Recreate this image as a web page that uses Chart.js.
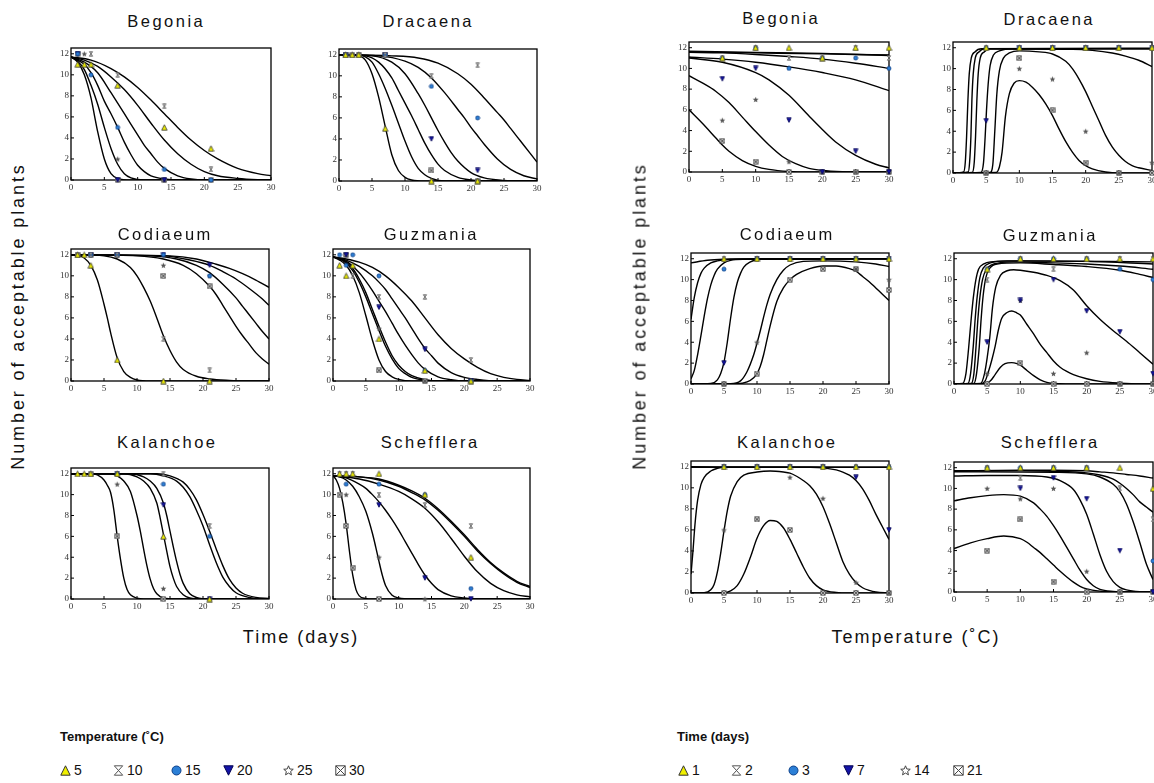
<!DOCTYPE html>
<html>
<head>
<meta charset="utf-8">
<script src="https://cdn.jsdelivr.net/npm/chart.js@4.4.1/dist/chart.umd.min.js"></script>
<style>
  html, body { margin: 0; padding: 0; background: #fff; }
  body { width: 1154px; height: 783px; overflow: hidden; position: relative;
         font-family: "Liberation Sans", Arial, sans-serif; color: #111; }
  canvas { position: absolute; }
  .ttl { position: absolute; font-size: 16.5px; line-height: 16.5px; letter-spacing: 2.5px;
         padding-left: 2.5px; white-space: nowrap; transform: translateX(-50%); }
  .axt { position: absolute; font-size: 18px; letter-spacing: 2px; white-space: nowrap; }
  .ylab { letter-spacing: 2.9px; }
  .legt { position: absolute; font-size: 13px; font-weight: bold; white-space: nowrap; }
  .legi { position: absolute; font-size: 14px; white-space: nowrap; line-height: 14px; }
</style>
</head>
<body>
<script>
// tick labels
const xTicks = [0, 5, 10, 15, 20, 25, 30];
const yTicks = [0, 2, 4, 6, 8, 10, 12];
// series names (legend)
const tempSeries = ['5', '10', '15', '20', '25', '30'];
const timeSeries = ['1', '2', '3', '7', '14', '21'];
const markerKinds = ['tri', 'hour', 'circle', 'down', 'star', 'box'];

// ---- left block: x = time (days), one point list per temperature ----
const begoniaDaysPts = [
  [[1,11],[2,11],[3,11],[7,9],[14,5],[21,3]],
  [[3,12],[7,10],[14,7],[21,1]],
  [[1,12],[3,10],[7,5],[14,1],[21,0]],
  [[1,12],[7,0],[14,0]],
  [[2,12],[7,2],[14,0]],
  [[1,12],[7,0],[14,0],[21,0]]
];
const begoniaDaysFit = [
  [[0,11.7],[1,11.2],[2,10],[3,7.8],[3.5,6.2],[4,4.6],[5,2],[6,0.6],[7,0.15],[9,0],[30,0]],
  [[0,11.7],[1,11.3],[2,10.5],[3,9],[4,7.2],[5,5],[6,3],[7,1.5],[8,0.6],[9,0.2],[11,0],[30,0]],
  [[0,11.7],[2,11],[3,10.2],[4,9],[5,7.5],[6,6.3],[7,5],[8,3.6],[9,2.4],[10,1.4],[11,0.8],[12,0.4],[14,0.1],[16,0],[30,0]],
  [[0,11.7],[2,11.2],[4,10.2],[6,8.3],[7,7.3],[8,6.3],[9,5.3],[10,4.3],[11,3.3],[12,2.5],[13,1.7],[14,1.1],[16,0.4],[18,0.1],[20,0],[30,0]],
  [[0,11.7],[2,11.4],[4,10.8],[6,9.8],[8,8.6],[10,7.1],[12,5.4],[14,3.8],[16,2.5],[18,1.5],[20,0.8],[22,0.4],[25,0.15],[28,0.03],[30,0]],
  [[0,11.7],[3,11.4],[6,10.6],[8,9.8],[10,8.8],[12,7.6],[14,6.3],[16,5],[18,3.8],[20,2.8],[22,2],[25,1.1],[28,0.6],[30,0.4]]
];

const dracaenaDaysPts = [
  [[1,12],[2,12],[3,12],[7,5],[14,0],[21,0]],
  [[1,12],[3,12],[7,12],[14,10],[21,11]],
  [[1,12],[7,12],[14,9],[21,6]],
  [[1,12],[7,12],[14,4],[21,1]],
  [[2,12],[7,12],[14,0],[21,0]],
  [[1,12],[2,12],[3,12],[7,12],[14,1],[21,0]]
];
const dracaenaDaysFit = [
  [[0,12],[3,11.9],[4,11.5],[5,10.2],[6,8],[7,5.2],[8,2.5],[9,1],[10,0.35],[11,0.1],[13,0],[30,0]],
  [[0,12],[3,12],[4,11.8],[5,11.3],[6,10.2],[7,8.8],[8,7.2],[9,5.5],[10,3.8],[11,2.3],[12,1.2],[13,0.6],[14,0.25],[16,0],[30,0]],
  [[0,12],[4,11.9],[6,11.3],[8,9.8],[9,8.6],[10,7.4],[11,6.2],[12,4.9],[13,3.6],[14,2.5],[15,1.6],[16,1],[18,0.35],[20,0.1],[22,0],[30,0]],
  [[0,12],[5,11.9],[8,11.3],[10,10.2],[12,8.3],[13,7.2],[14,6],[15,4.8],[16,3.7],[17,2.7],[18,1.9],[20,0.8],[22,0.3],[25,0.05],[27,0],[30,0]],
  [[0,12],[6,11.9],[10,11.4],[12,10.8],[14,9.8],[16,8.4],[18,6.8],[19,6],[20,5.1],[21,4.3],[22,3.5],[24,2.1],[26,1.1],[28,0.5],[30,0.2]],
  [[0,12],[8,11.9],[12,11.7],[15,11.2],[18,10.2],[20,9.2],[22,7.9],[24,6.5],[25,5.8],[26,5],[27,4.2],[28,3.4],[29,2.6],[30,1.8]]
];

const codiaeumDaysPts = [
  [[1,12],[2,12],[3,11],[7,2],[14,0],[21,0]],
  [[1,12],[3,12],[7,12],[14,4],[21,1]],
  [[3,12],[7,12],[14,12],[21,10]],
  [[3,12],[7,12],[14,12],[21,11]],
  [[3,12],[7,12],[14,11],[21,10]],
  [[1,12],[3,12],[7,12],[14,10],[21,9]]
];
const codiaeumDaysFit = [
  [[0,12],[1,11.95],[2,11.7],[3,11],[4,9.6],[5,7.3],[5.5,6],[6,4.6],[7,2.2],[8,0.9],[9,0.35],[10,0.1],[12,0],[30,0]],
  [[0,12],[5,11.9],[7,11.6],[9,10.8],[10,10],[11,8.9],[12,7.6],[13,6],[14,4.3],[15,2.9],[16,1.8],[17,1.1],[19,0.45],[21,0.2],[24,0.05],[26,0],[30,0]],
  [[0,12],[10,11.9],[14,11.6],[17,11],[19,10.2],[21,9],[22,8.2],[23,7.2],[24,6.2],[25,5.2],[26,4.3],[27,3.5],[28,2.7],[29,2.1],[30,1.6]],
  [[0,12],[12,11.9],[16,11.6],[19,11],[21,10.3],[23,9.2],[25,7.9],[26,7.1],[27,6.3],[28,5.5],[29,4.7],[30,4]],
  [[0,12],[14,11.9],[18,11.5],[21,11],[23,10.4],[25,9.7],[27,8.8],[29,7.8],[30,7.2]],
  [[0,12],[15,11.9],[19,11.6],[22,11.1],[24,10.7],[26,10.2],[28,9.6],[30,8.9]]
];

const guzmaniaDaysPts = [
  [[1,11],[2,10],[3,11],[7,4],[14,1],[21,0]],
  [[3,10],[7,8],[14,8],[21,2]],
  [[1,12],[2,11],[3,12],[7,10],[14,1],[21,0]],
  [[2,12],[7,7],[14,3],[21,0]],
  [[2,12],[7,5],[14,0]],
  [[2,12],[7,1],[14,0],[21,0]]
];
const guzmaniaDaysFit = [
  [[0,11.8],[1,11.5],[2,11],[3,10],[4,8.4],[5,6.2],[6,3.9],[7,2],[8,0.9],[9,0.4],[10,0.15],[12,0],[30,0]],
  [[0,11.8],[1,11.6],[2,11.2],[3,10.5],[4,9.4],[5,8],[6,6.4],[7,4.8],[8,3.3],[9,2.1],[10,1.2],[11,0.7],[12,0.35],[14,0.08],[16,0],[30,0]],
  [[0,11.8],[1,11.6],[2,11.3],[3,10.7],[4,9.7],[5,8.4],[6,6.8],[7,5.2],[8,3.7],[9,2.4],[10,1.5],[11,0.9],[12,0.5],[14,0.12],[16,0],[30,0]],
  [[0,11.8],[2,11.4],[4,10.3],[5,9.5],[6,8.6],[7,7.6],[8,6.6],[9,5.5],[10,4.4],[11,3.4],[12,2.5],[13,1.7],[14,1.1],[16,0.4],[18,0.12],[20,0],[30,0]],
  [[0,11.8],[2,11.5],[4,10.9],[6,10],[7,9.4],[8,8.7],[9,7.8],[10,6.9],[11,6],[12,5],[13,4],[14,3.1],[15,2.4],[16,1.7],[18,0.8],[20,0.35],[22,0.15],[25,0],[30,0]],
  [[0,11.8],[2,11.6],[4,11.3],[6,10.8],[8,10],[10,8.9],[12,7.6],[14,6],[16,4.4],[18,3.1],[20,2.1],[22,1.3],[24,0.7],[26,0.35],[28,0.15],[30,0.05]]
];

const kalanchoeDaysPts = [
  [[1,12],[2,12],[3,12],[7,12],[14,6],[21,0]],
  [[7,12],[14,12],[21,7]],
  [[7,12],[14,11],[21,6]],
  [[7,12],[14,9],[21,0]],
  [[7,11],[14,1],[21,0]],
  [[3,12],[7,6],[14,0]]
];
const kalanchoeDaysFit = [
  [[0,12],[3,12],[4,11.9],[5,11.4],[5.5,10.9],[6,10.2],[6.5,8.5],[7,6],[7.5,3.8],[8,2],[8.5,0.9],[9,0.4],[10,0.08],[11,0],[30,0]],
  [[0,12],[6,12],[7,11.8],[8,11.3],[9,10.3],[10,8],[10.5,6.5],[11,4.8],[11.5,3.2],[12,1.9],[12.5,1],[13,0.5],[14,0.1],[16,0],[30,0]],
  [[0,12],[8,12],[10,11.7],[11,11.3],[12,10.6],[13,9.2],[13.5,7.8],[14,6.2],[14.5,4.6],[15,3.1],[15.5,2],[16,1.2],[17,0.4],[18,0.1],[20,0],[30,0]],
  [[0,12],[9,12],[11,11.7],[12,11.3],[13,10.6],[14,9.2],[14.5,8],[15,6.5],[15.5,5],[16,3.6],[16.5,2.4],[17,1.5],[18,0.5],[19,0.15],[21,0],[30,0]],
  [[0,12],[12,12],[14,11.8],[16,11.3],[17,10.7],[18,9.8],[19,8.5],[20,7],[21,5.2],[22,3.5],[23,2.1],[24,1.2],[25,0.6],[27,0.15],[29,0],[30,0]],
  [[0,12],[13,12],[15,11.8],[17,11.2],[18,10.5],[19,9.5],[20,8.1],[21,6.5],[22,4.8],[23,3.2],[24,1.9],[25,1.05],[26,0.55],[28,0.15],[30,0.05]]
];

const scheffleraDaysPts = [
  [[1,12],[2,12],[3,12],[7,12],[14,10],[21,4]],
  [[1,12],[2,12],[3,12],[7,10],[14,9],[21,7]],
  [[2,11],[7,11],[14,10],[21,1]],
  [[7,9],[14,2],[21,0]],
  [[2,10],[7,4],[14,0]],
  [[1,10],[2,7],[3,3],[7,0]]
];
const scheffleraDaysFit = [
  [[0,11.8],[0.5,11.4],[1,10.6],[1.5,9.2],[2,7.2],[2.5,4.6],[3,2.3],[3.5,0.9],[4,0.3],[5,0.05],[6,0],[30,0]],
  [[0,11.8],[1,11.7],[2,11.4],[3,10.8],[4,9.8],[5,8.4],[6,6.3],[6.5,5],[7,3.6],[7.5,2.3],[8,1.3],[9,0.35],[10,0.1],[12,0],[30,0]],
  [[0,11.8],[2,11.6],[4,11],[5,10.6],[6,10],[7,9.3],[8,8.5],[9,7.6],[10,6.6],[11,5.5],[12,4.4],[13,3.3],[14,2.3],[15,1.5],[16,0.9],[18,0.3],[20,0.1],[22,0],[30,0]],
  [[0,11.8],[4,11.5],[7,11],[10,10.3],[12,9.6],[14,8.7],[16,7.4],[18,5.8],[20,4.1],[22,2.6],[24,1.5],[26,0.8],[28,0.4],[30,0.2]],
  [[0,11.8],[4,11.7],[7,11.4],[10,10.8],[12,10.2],[14,9.5],[16,8.5],[18,7.3],[20,6],[22,4.6],[24,3.4],[26,2.4],[28,1.6],[30,1.1]],
  [[0,11.8],[4,11.7],[7,11.5],[10,10.9],[12,10.35],[14,9.65],[16,8.65],[18,7.45],[20,6.15],[22,4.75],[24,3.5],[26,2.5],[28,1.7],[30,1.2]]
];

// ---- right block: x = temperature (C), one point list per storage time ----
const begoniaTempPts = [
  [[5,11],[10,12],[15,12],[20,11],[25,12],[30,12]],
  [[5,11],[10,12],[15,11],[20,11],[25,12],[30,11]],
  [[5,11],[10,12],[15,10],[20,11],[25,11],[30,10]],
  [[5,9],[10,10],[15,5],[20,0],[25,2],[30,0]],
  [[5,5],[10,7],[15,1],[20,0],[25,0],[30,0]],
  [[5,3],[10,1],[15,0],[20,0],[25,0],[30,0]]
];
const begoniaTempFit = [
  [[0,11.65],[10,11.55],[20,11.45],[30,11.25]],
  [[0,11.6],[10,11.5],[20,11.4],[30,11.3]],
  [[0,11.55],[5,11.5],[10,11.35],[15,11.15],[20,10.9],[25,10.5],[30,10]],
  [[0,11.1],[5,10.9],[10,10.6],[15,10.15],[20,9.6],[25,8.9],[30,7.85]],
  [[0,11],[5,10.6],[10,9.6],[12,8.9],[15,7.4],[18,5.4],[20,4.1],[22,2.9],[25,1.6],[28,0.75],[30,0.4]],
  [[0,9.3],[2,8.6],[4,7.8],[6,6.7],[8,5.3],[10,3.9],[12,2.6],[14,1.5],[16,0.8],[18,0.35],[20,0.15],[23,0.03],[26,0],[30,0]],
  [[0,6],[2,4.7],[4,3.3],[5,2.6],[6,2],[8,1.1],[10,0.55],[12,0.25],[15,0.05],[18,0],[30,0]]
];

const dracaenaTempPts = [
  [[5,12],[10,12],[15,12],[20,12],[25,12],[30,12]],
  [[5,12],[10,12],[15,12],[20,12],[25,12],[30,12]],
  [[5,12],[10,12],[15,12],[20,12],[25,12],[30,12]],
  [[5,5],[10,12],[15,12],[20,12],[25,12],[30,12]],
  [[5,0],[10,10],[15,9],[20,4],[25,0],[30,1]],
  [[5,0],[10,11],[15,6],[20,1],[25,0],[30,0]]
];
const dracaenaTempFit = [
  [[0,0],[1.6,0.1],[1.85,1],[2.05,3.5],[2.25,7],[2.45,9.5],[2.75,11],[3.3,11.6],[4.3,11.9],[30,11.95]],
  [[0,0],[2.3,0.1],[2.5,1],[2.7,3.5],[2.85,7],[3.05,9.5],[3.35,11],[3.9,11.6],[4.8,11.9],[30,11.9]],
  [[0,0],[2.9,0.05],[3.2,1],[3.4,3.5],[3.6,7],[3.8,9.5],[4.1,11],[4.7,11.6],[5.6,11.9],[18,11.85],[21,11.75],[24,11.5],[26,11.2],[28,10.8],[30,10.2]],
  [[0,0],[4.2,0.05],[4.6,1],[4.85,3.5],[5.05,6],[5.3,8.5],[5.6,10.3],[6.1,11.3],[7,11.7],[9,11.9],[30,11.9]],
  [[0,0],[5.6,0.05],[6,0.8],[6.3,4],[6.6,7.5],[7,9.8],[7.6,11],[8.5,11.5],[10,11.7],[13,11.6],[15,11.4],[17,10.7],[18,10],[19,9],[20,7.8],[21,6.4],[22,5],[23,3.6],[24,2.5],[25,1.7],[26,1.1],[27,0.7],[28,0.5],[30,0.25]],
  [[0,0],[6.5,0.05],[7,0.6],[7.4,2],[7.9,5.4],[8.5,7.6],[9.2,8.6],[10,8.85],[11,8.7],[12,8.2],[13,7.5],[14,6.6],[15,5.5],[16,4.2],[17,3],[18,2],[19,1.2],[20,0.7],[21,0.4],[23,0.1],[25,0],[30,0]]
];

const codiaeumTempPts = [
  [[5,12],[10,12],[15,12],[20,12],[25,12],[30,12]],
  [[5,12],[10,12],[15,12],[20,12],[25,12],[30,12]],
  [[5,11],[10,12],[15,12],[20,12],[25,12],[30,12]],
  [[5,2],[10,12],[15,12],[20,12],[25,12],[30,12]],
  [[5,0],[10,4],[15,12],[20,12],[25,11],[30,10]],
  [[5,0],[10,1],[15,10],[20,11],[25,11],[30,9]]
];
const codiaeumTempFit = [
  [[0,11.6],[2.5,11.85],[5,11.95],[10,12],[30,12]],
  [[0,6.2],[0.5,8.3],[1,9.7],[1.5,10.6],[2,11.1],[3,11.6],[4,11.8],[6,11.95],[30,12]],
  [[0,0.5],[0.5,1.3],[1,2.8],[1.5,4.6],[2,6.5],[2.5,8.2],[3,9.5],[3.5,10.4],[4,11],[5,11.6],[6,11.85],[8,11.95],[30,12]],
  [[0,0],[3,0.05],[4,0.4],[4.5,1],[5,2.1],[5.5,4],[6,6.3],[6.5,8.3],[7,9.7],[7.5,10.6],[8,11.2],[9,11.7],[10,11.9],[12,12],[30,12]],
  [[0,0],[6,0.02],[7.5,0.3],[8.5,1.2],[9.5,2.8],[10,3.9],[10.5,5.1],[11,6.4],[11.5,7.6],[12,8.6],[13,10],[14,10.9],[15,11.4],[17,11.75],[20,11.8],[25,11.7],[28,11.5],[30,11.25]],
  [[0,0],[7,0.02],[8.5,0.2],[9.5,0.6],[10,1],[10.5,1.7],[11,2.8],[11.5,4.2],[12,5.6],[13,7.9],[14,9.2],[15,10],[16,10.5],[18,11.05],[20,11.3],[22,11.3],[24,11.05],[25,10.8],[26,10.3],[27,9.8],[28,9.2],[29,8.6],[30,8]]
];

const guzmaniaTempPts = [
  [[5,11],[10,12],[15,12],[20,12],[25,12],[30,12]],
  [[5,10],[10,12],[15,11],[20,12],[25,12],[30,12]],
  [[5,11],[10,12],[15,12],[20,12],[25,11],[30,10]],
  [[5,4],[10,8],[15,10],[20,7],[25,5],[30,1]],
  [[5,1],[10,8],[15,1],[20,3],[25,0],[30,0]],
  [[5,0],[10,2],[15,0],[20,0],[25,0],[30,0]]
];
const guzmaniaTempFit = [
  [[0,0],[1.3,0.05],[1.8,1],[2.2,3.4],[2.6,6.3],[2.9,8.2],[3.3,10],[3.7,11],[4.5,11.5],[5.5,11.7],[10,11.8],[30,11.7]],
  [[0,0],[2.1,0.05],[2.5,1],[2.9,3.6],[3.2,6.3],[3.5,8.4],[3.9,10.2],[4.4,11.1],[5.5,11.6],[8,11.8],[20,11.75],[30,11.5]],
  [[0,0],[2.6,0.05],[3,1],[3.3,3.4],[3.6,6.2],[3.9,8.3],[4.3,10],[4.8,10.9],[6,11.5],[9,11.7],[15,11.6],[20,11.5],[25,11.3],[30,11]],
  [[0,0],[3,0.05],[3.4,1],[3.8,3.5],[4.1,6.3],[4.4,8.5],[4.8,10.2],[5.4,11.1],[6.5,11.5],[10,11.6],[15,11.45],[20,11.25],[25,10.9],[28,10.5],[30,10.2]],
  [[0,0],[4,0.05],[4.6,1],[5,2.5],[5.4,4.5],[5.8,7.3],[6.3,9.3],[7,10.4],[8,10.85],[9,10.95],[10,10.9],[12,10.7],[14,10.4],[16,9.9],[18,9],[20,7.5],[22,6.2],[24,5.1],[25,4.6],[26,4.1],[28,3],[30,1.9]],
  [[0,0],[4,0.02],[4.7,0.3],[5.2,1.2],[5.7,2.3],[6.2,3.6],[6.7,5.2],[7.2,6.3],[8,6.85],[8.7,7],[9.5,6.8],[10,6.6],[11,5.7],[12,4.8],[13,3.8],[14,3],[15,2.2],[16,1.6],[17,1.2],[18,0.9],[20,0.5],[22,0.25],[25,0.08],[28,0],[30,0]],
  [[0,0],[4.8,0.02],[5.5,0.3],[6.2,0.9],[7,1.6],[7.7,1.95],[8.7,2.05],[9.5,1.95],[10,1.8],[11,1.3],[12,0.8],[13,0.4],[14,0.15],[16,0.02],[18,0],[30,0]]
];

const kalanchoeTempPts = [
  [[5,12],[10,12],[15,12],[20,12],[25,12],[30,12]],
  [[5,12],[10,12],[15,12],[20,12],[25,12],[30,12]],
  [[5,12],[10,12],[15,12],[20,12],[25,12],[30,12]],
  [[5,12],[10,12],[15,12],[20,12],[25,11],[30,6]],
  [[5,6],[10,12],[15,11],[20,9],[25,1],[30,0]],
  [[5,0],[10,7],[15,6],[20,0],[25,0],[30,0]]
];
const kalanchoeTempFit = [
  [[0,11.95],[30,11.95]],
  [[0,1.8],[0.3,4],[0.6,6.5],[1,8.8],[1.5,10.3],[2,11],[3,11.6],[4,11.85],[5,11.95],[30,11.95]],
  [[0,12],[18,11.95],[20,11.9],[22,11.7],[23,11.5],[24,11.2],[25,10.7],[26,9.9],[27,8.8],[28,7.5],[29,6.3],[30,5.1]],
  [[0,0],[2,0.02],[3,0.3],[3.5,0.8],[4,2],[4.5,3.8],[5,5.9],[5.5,7.8],[6,9.2],[7,10.6],[8,11.2],[10,11.5],[12,11.6],[14,11.5],[15,11.4],[16,11.1],[17,10.7],[18,10.2],[19,9.4],[20,8.2],[21,6.6],[22,4.8],[23,3],[24,1.8],[25,1],[26,0.5],[27,0.25],[28,0.1],[30,0]],
  [[0,0],[5,0.02],[6,0.2],[7,0.7],[8,1.8],[9,3.4],[10,5.2],[11,6.4],[12,6.9],[13,6.8],[14,6.2],[15,5.1],[16,3.8],[17,2.5],[18,1.4],[19,0.7],[20,0.3],[22,0.05],[24,0],[30,0]]
];

const scheffleraTempPts = [
  [[5,12],[10,12],[15,12],[20,12],[25,12],[30,10]],
  [[5,12],[10,11],[15,12],[20,12],[25,10],[30,7]],
  [[5,12],[10,12],[15,12],[20,12],[30,3]],
  [[10,10],[15,11],[20,9],[25,4],[30,0]],
  [[5,10],[10,9],[15,10],[20,2],[25,0],[30,0]],
  [[5,4],[10,7],[15,1],[20,0],[25,0],[30,0]]
];
const scheffleraTempFit = [
  [[0,11.7],[10,11.75],[15,11.75],[20,11.7],[22,11.6],[24,11.5],[26,11.35],[28,11.2],[30,11]],
  [[0,11.65],[10,11.7],[15,11.65],[20,11.5],[22,11.3],[24,10.9],[25,10.5],[26,10],[27,9.4],[28,8.7],[29,8.2],[30,7.7]],
  [[0,11.6],[15,11.55],[20,11.4],[22,11.1],[24,10.4],[25,9.7],[26,8.5],[27,6.8],[28,4.8],[29,2.7],[30,1.2]],
  [[0,11.2],[5,11.25],[10,11.25],[14,11.1],[16,10.75],[18,9.9],[19,8.9],[20,7.5],[21,5.6],[22,3.6],[23,2],[24,1],[25,0.45],[26,0.2],[28,0.03],[30,0]],
  [[0,8.8],[2.5,9.1],[5,9.3],[7.5,9.4],[10,9.25],[12,8.6],[13,8],[14,7.3],[15,6.4],[16,5.4],[17,4.3],[18,3.2],[19,2.1],[20,1.2],[21,0.6],[22,0.25],[24,0.05],[26,0],[30,0]],
  [[0,4.2],[2.5,4.75],[5,5.15],[7.5,5.4],[10,5.15],[11,4.8],[12,4.3],[13,3.8],[14,3.2],[15,2.6],[16,2],[17,1.45],[18,0.95],[19,0.55],[20,0.3],[22,0.08],[24,0],[30,0]]
];

// panel placement: plot box l/t/r/b in page pixels, title centre and baseline
const panels = [
  { title: 'Begonia',    pts: begoniaDaysPts,    fit: begoniaDaysFit,    l: 71,  t: 48,  r: 271,  b: 180, tx: 165,  ty: 27 },
  { title: 'Dracaena',   pts: dracaenaDaysPts,   fit: dracaenaDaysFit,   l: 339, t: 49,  r: 537,  b: 181, tx: 427,  ty: 27 },
  { title: 'Codiaeum',   pts: codiaeumDaysPts,   fit: codiaeumDaysFit,   l: 71,  t: 249, r: 269,  b: 381, tx: 164,  ty: 240 },
  { title: 'Guzmania',   pts: guzmaniaDaysPts,   fit: guzmaniaDaysFit,   l: 333, t: 249, r: 530,  b: 381, tx: 430,  ty: 240 },
  { title: 'Kalanchoe',  pts: kalanchoeDaysPts,  fit: kalanchoeDaysFit,  l: 71,  t: 468, r: 269,  b: 599, tx: 166,  ty: 448 },
  { title: 'Schefflera', pts: scheffleraDaysPts, fit: scheffleraDaysFit, l: 333, t: 468, r: 530,  b: 599, tx: 429,  ty: 448 },
  { title: 'Begonia',    pts: begoniaTempPts,    fit: begoniaTempFit,    l: 689, t: 42,  r: 889,  b: 172, tx: 780,  ty: 24 },
  { title: 'Dracaena',   pts: dracaenaTempPts,   fit: dracaenaTempFit,   l: 953, t: 42,  r: 1152, b: 173, tx: 1048, ty: 25 },
  { title: 'Codiaeum',   pts: codiaeumTempPts,   fit: codiaeumTempFit,   l: 691, t: 253, r: 889,  b: 384, tx: 786,  ty: 240 },
  { title: 'Guzmania',   pts: guzmaniaTempPts,   fit: guzmaniaTempFit,   l: 954, t: 253, r: 1153, b: 384, tx: 1049, ty: 241 },
  { title: 'Kalanchoe',  pts: kalanchoeTempPts,  fit: kalanchoeTempFit,  l: 691, t: 461, r: 889,  b: 593, tx: 786,  ty: 448 },
  { title: 'Schefflera', pts: scheffleraTempPts, fit: scheffleraTempFit, l: 954, t: 462, r: 1153, b: 592, tx: 1049, ty: 448 }
];

const PAD_L = 24, PAD_T = 8, PAD_R = 7, PAD_B = 14;

// small marker images used as point styles
function makeMarker(kind, s, legend) {
  const c = document.createElement('canvas');
  c.width = s; c.height = s;
  const g = c.getContext('2d');
  const m = 0.8, e = s - 0.8, h = s / 2;
  g.lineWidth = legend ? 1 : 0.8;
  g.beginPath();
  if (kind === 'tri') {
    g.moveTo(h, m); g.lineTo(e, e); g.lineTo(m, e); g.closePath();
    g.fillStyle = '#f0f000'; g.strokeStyle = '#333';
    g.fill(); g.stroke();
  } else if (kind === 'down') {
    g.moveTo(m, m); g.lineTo(e, m); g.lineTo(h, e); g.closePath();
    g.fillStyle = '#1414a8'; g.strokeStyle = '#000050';
    g.fill(); g.stroke();
  } else if (kind === 'circle') {
    g.arc(h, h, h - 1, 0, Math.PI * 2);
    g.fillStyle = '#2b7fd6'; g.strokeStyle = '#0c3f88';
    g.fill(); g.stroke();
  } else if (kind === 'hour') {
    g.moveTo(m + 0.5, m); g.lineTo(e - 0.5, m); g.lineTo(m + 0.5, e); g.lineTo(e - 0.5, e); g.closePath();
    g.fillStyle = legend ? '#fff' : '#ccc'; g.strokeStyle = '#555';
    g.fill(); g.stroke();
  } else if (kind === 'star') {
    const ro = h - 0.5, ri = ro * 0.45;
    for (let i = 0; i < 10; i++) {
      const a = -Math.PI / 2 + i * Math.PI / 5, rr = i % 2 ? ri : ro;
      const px = h + rr * Math.cos(a), py = h + 0.3 + rr * Math.sin(a);
      i ? g.lineTo(px, py) : g.moveTo(px, py);
    }
    g.closePath();
    if (legend) { g.fillStyle = '#fff'; g.strokeStyle = '#444'; g.fill(); g.stroke(); }
    else { g.fillStyle = '#555'; g.fill(); }
  } else if (kind === 'box') {
    g.rect(m, m, e - m, e - m);
    g.fillStyle = legend ? '#fff' : '#d8d8d8'; g.strokeStyle = '#444';
    g.fill(); g.stroke();
    g.beginPath(); g.moveTo(m, m); g.lineTo(e, e); g.moveTo(e, m); g.lineTo(m, e); g.stroke();
  }
  return c;
}
const markerSize = { tri: 7, hour: 6, circle: 6, down: 6, star: 7, box: 6 };
const plotMarkers = markerKinds.map(k => makeMarker(k, markerSize[k], false));

// frame and inward ticks around each plot box
const framePlugin = {
  id: 'frame',
  beforeDatasetsDraw(chart) {
    const { ctx, chartArea: a, scales: { x, y } } = chart;
    ctx.save();
    ctx.strokeStyle = '#000';
    ctx.lineWidth = 1.3;
    ctx.strokeRect(a.left, a.top, a.right - a.left, a.bottom - a.top);
    ctx.lineWidth = 1;
    ctx.beginPath();
    xTicks.forEach(v => { const px = x.getPixelForValue(v); ctx.moveTo(px, a.bottom); ctx.lineTo(px, a.bottom - 3); });
    yTicks.forEach(v => { const py = y.getPixelForValue(v); ctx.moveTo(a.left, py); ctx.lineTo(a.left + 3, py); });
    ctx.stroke();
    ctx.restore();
  }
};

function buildPanel(p) {
  const w = p.r - p.l + PAD_L + PAD_R, h = p.b - p.t + PAD_T + PAD_B;
  const cv = document.createElement('canvas');
  cv.width = w; cv.height = h;
  cv.style.left = (p.l - PAD_L) + 'px';
  cv.style.top = (p.t - PAD_T) + 'px';
  cv.style.width = w + 'px'; cv.style.height = h + 'px';
  document.body.appendChild(cv);

  const datasets = [];
  p.pts.forEach((arr, i) => datasets.push({
    type: 'scatter', data: arr, pointStyle: plotMarkers[i], pointRadius: 3, clip: false
  }));
  p.fit.forEach(arr => datasets.push({
    type: 'line', data: arr, borderColor: '#000', borderWidth: 1.4, pointRadius: 0,
    cubicInterpolationMode: 'monotone', fill: false
  }));

  const tickFont = { family: '"Liberation Serif", "Times New Roman", serif', size: 9 };
  new Chart(cv, {
    type: 'scatter',
    data: { datasets },
    plugins: [framePlugin],
    options: {
      responsive: false, animation: false, devicePixelRatio: 1, events: [],
      layout: { padding: { left: 0, top: PAD_T, right: PAD_R, bottom: 0 } },
      plugins: { legend: { display: false }, tooltip: { enabled: false } },
      scales: {
        x: {
          type: 'linear', min: 0, max: 30,
          grid: { display: false, drawTicks: false }, border: { display: false },
          afterBuildTicks: s => { s.ticks = xTicks.map(v => ({ value: v })); },
          afterFit: s => { s.height = PAD_B; },
          ticks: { padding: 2, autoSkip: false, maxRotation: 0, color: '#333', font: tickFont }
        },
        y: {
          type: 'linear', min: 0, max: 12.55,
          grid: { display: false, drawTicks: false }, border: { display: false },
          afterBuildTicks: s => { s.ticks = yTicks.map(v => ({ value: v })); },
          afterFit: s => { s.width = PAD_L; },
          ticks: { padding: 2, autoSkip: false, color: '#333', font: tickFont }
        }
      }
    }
  });

  const t = document.createElement('div');
  t.className = 'ttl';
  t.textContent = p.title;
  t.style.left = p.tx + 'px';
  t.style.top = (p.ty - 14) + 'px';
  document.body.appendChild(t);
}
panels.forEach(buildPanel);

// axis titles
function addText(cls, text, css) {
  const d = document.createElement('div');
  d.className = cls; d.textContent = text;
  Object.assign(d.style, css);
  document.body.appendChild(d);
  return d;
}
const yLab = 'Number of acceptable plants';
addText('axt ylab', yLab, { left: '18px', top: '316px', transform: 'translate(-50%,-50%) rotate(-90deg)' });
addText('axt ylab', yLab, { left: '640px', top: '316px', transform: 'translate(-50%,-50%) rotate(-90deg)' });
addText('axt', 'Time (days)', { left: '301px', top: '637px', transform: 'translate(-50%,-50%)' });
addText('axt', 'Temperature (˚C)', { left: '916px', top: '637px', transform: 'translate(-50%,-50%)' });

// legends
addText('legt', 'Temperature (˚C)', { left: '60px', top: '729px' });
addText('legt', 'Time (days)', { left: '677px', top: '729px' });
const legXLeft = [65, 118, 176, 228, 288, 340];
const legXRight = [683, 736, 793, 848, 905, 958];
function addLegend(names, xs) {
  names.forEach((n, i) => {
    const mk = makeMarker(markerKinds[i], 11, true);
    mk.style.left = (xs[i] - 5.5) + 'px';
    mk.style.top = (770 - 5.5) + 'px';
    document.body.appendChild(mk);
    addText('legi', n, { left: (xs[i] + 9) + 'px', top: '763px' });
  });
}
addLegend(tempSeries, legXLeft);
addLegend(timeSeries, legXRight);
</script>
</body>
</html>
